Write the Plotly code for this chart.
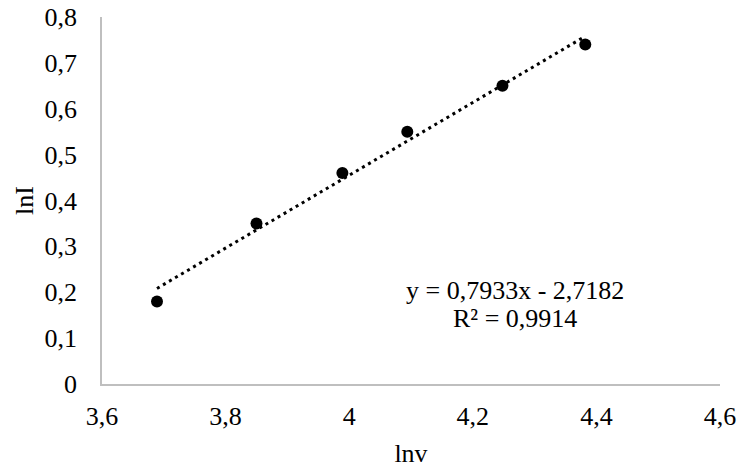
import plotly.graph_objects as go

# Measured data: ln(v) against ln(I)
ln_v = [3.689, 3.850, 3.989, 4.094, 4.248, 4.382]
ln_i = [0.18, 0.35, 0.46, 0.55, 0.65, 0.74]

# Linear trendline coefficients and goodness of fit
slope = 0.7933
intercept = -2.7182
r_squared = 0.9914

x_ticks = [3.6, 3.8, 4.0, 4.2, 4.4, 4.6]
x_tick_text = ["3,6", "3,8", "4", "4,2", "4,4", "4,6"]
y_ticks = [0, 0.1, 0.2, 0.3, 0.4, 0.5, 0.6, 0.7, 0.8]
y_tick_text = ["0", "0,1", "0,2", "0,3", "0,4", "0,5", "0,6", "0,7", "0,8"]

FONT = "Times New Roman, Liberation Serif, serif"
FS = 26
AXIS_GREY = "#bfbfbf"

def fmt(v, digits=4):
    return f"{v:.{digits}f}".replace(".", ",")

trend_x = [ln_v[0], ln_v[-1]]
trend_y = [slope * x + intercept for x in trend_x]

fig = go.Figure()
fig.add_trace(go.Scatter(
    x=trend_x, y=trend_y, mode="lines",
    line=dict(color="black", width=3, dash="3px,4px"),
    hoverinfo="skip", showlegend=False,
))
fig.add_trace(go.Scatter(
    x=ln_v, y=ln_i, mode="markers",
    marker=dict(color="black", size=12),
    showlegend=False,
))

sign = "-" if intercept < 0 else "+"
fig.add_annotation(
    x=4.268, y=0.203, xref="x", yref="y", showarrow=False,
    text=f"y = {fmt(slope)}x {sign} {fmt(abs(intercept))}",
    font=dict(family=FONT, size=FS, color="black"),
)
fig.add_annotation(
    x=4.268, y=0.143, xref="x", yref="y", showarrow=False,
    text=f"R² = {fmt(r_squared)}",
    font=dict(family=FONT, size=FS, color="black"),
)

fig.update_layout(
    width=741, height=468,
    margin=dict(l=102, r=21, t=17, b=84),
    paper_bgcolor="white", plot_bgcolor="white",
    font=dict(family=FONT, size=FS, color="black"),
    separators=", ",
)
fig.update_xaxes(
    range=[3.6, 4.6], tickvals=x_ticks, ticktext=x_tick_text,
    showgrid=False, zeroline=False, automargin=False,
    showline=True, linecolor=AXIS_GREY, linewidth=1.5,
    ticks="", ticklabelstandoff=8,
    tickfont=dict(family=FONT, size=FS),
    title=dict(text="lnv", standoff=16, font=dict(family=FONT, size=FS)),
)
fig.update_yaxes(
    range=[0, 0.8], tickvals=y_ticks, ticktext=y_tick_text,
    showgrid=False, zeroline=False, automargin=False,
    showline=True, linecolor=AXIS_GREY, linewidth=1.5,
    ticks="", ticklabelstandoff=18,
    tickfont=dict(family=FONT, size=FS),
    title=dict(text="lnI", standoff=3, font=dict(family=FONT, size=FS)),
)

fig.write_html("out.html")
